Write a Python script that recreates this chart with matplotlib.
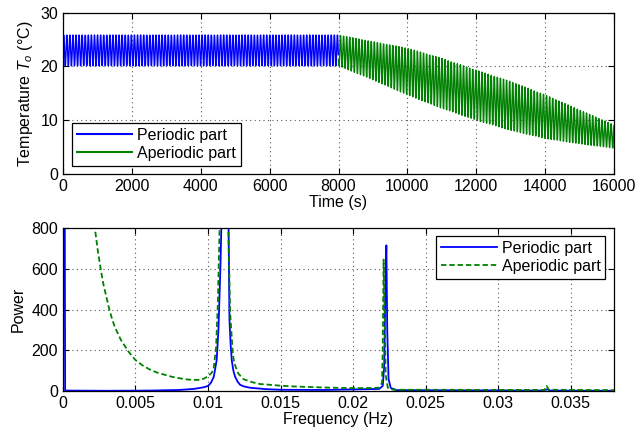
"""MATLAB-style figure: temperature signal split into periodic / aperiodic
parts (top) and their power spectra (bottom)."""

import numpy as np
import matplotlib
matplotlib.use("Agg")
import matplotlib.pyplot as plt

plt.rcParams["font.family"] = ["Liberation Sans", "DejaVu Sans"]
plt.rcParams["mathtext.fontset"] = "custom"
plt.rcParams["mathtext.it"] = "Liberation Sans:italic"
plt.rcParams["mathtext.rm"] = "Liberation Sans"
plt.rcParams["font.size"] = 11.5

BLUE = (0, 0, 1)
GREEN = (0, 0.5, 0)

# --- top panel: envelope ----------------------------------------------------
f0 = 0.0112                      # fundamental (Hz), from the spectrum peak
per_lo, per_hi = 20.1, 25.85     # periodic part band, 0..8000 s
aper_t = [8000, 9000, 10000, 11000, 12000, 13000, 14000, 15000, 16000]
aper_hi = [25.85, 24.6, 23.4, 21.5, 19.3, 17.2, 14.7, 11.9, 9.1]
aper_lo = [20.1, 17.5, 14.7, 12.2, 10.0, 8.1, 6.6, 5.6, 4.8]

# --- bottom panel: power spectra ---------------------------------------------
per_f = [0.0, 0.00015, 0.003, 0.006, 0.008, 0.009, 0.00946, 0.0098, 0.0100,
         0.0102, 0.0104, 0.0106, 0.01072, 0.01085, 0.01092, 0.01115, 0.01142,
         0.01148, 0.01156, 0.01164, 0.01175, 0.01187, 0.01205, 0.01222,
         0.0125, 0.0129, 0.014, 0.015, 0.018, 0.0218, 0.02205, 0.02215,
         0.02225, 0.02230, 0.02236, 0.02245, 0.0226, 0.0230, 0.0330, 0.03340,
         0.0336, 0.038]
per_p = [5000, 2, 1, 2, 5, 10, 15, 20, 25,
         40, 70, 152, 300, 590, 800, 3000, 800,
         350, 230, 150, 100, 70, 45, 30,
         22, 16, 9, 6, 5, 10, 25, 120,
         600, 715, 300, 60, 15, 4, 2, 8,
         2, 1]
aper_f = [0.0015, 0.0022, 0.0024, 0.0026, 0.0028, 0.0030, 0.0032, 0.0034,
          0.0036, 0.0038, 0.0040, 0.0045, 0.0050, 0.0055, 0.0060, 0.0065,
          0.0070, 0.0075, 0.0080, 0.0085, 0.0090, 0.0094, 0.0097, 0.0100,
          0.0102, 0.01038, 0.01056, 0.01068, 0.01080, 0.0110, 0.01140,
          0.01153, 0.01171, 0.0118, 0.01199, 0.0121, 0.01245, 0.0130, 0.0136,
          0.014, 0.015, 0.016, 0.018, 0.020, 0.021, 0.0218, 0.0220, 0.02205,
          0.02211, 0.02218, 0.02225, 0.0224, 0.0228, 0.0332, 0.03335, 0.0335,
          0.038]
aper_p = [1800, 800, 690, 600, 520, 460, 400, 350,
          310, 280, 250, 195, 152, 125, 105, 90,
          80, 70, 63, 57, 54, 55, 60, 72,
          85, 103, 217, 431, 800, 3000, 800,
          380, 186, 140, 103, 85, 58, 44, 34,
          32, 26, 22, 17, 14, 14, 16, 40, 200,
          645, 400, 80, 15, 6, 5, 25, 6,
          4]


def style_axes(ax):
    ax.grid(True, linestyle=(0, (1, 3)), color="0.35", linewidth=0.8)
    ax.tick_params(direction="in", top=True, right=True, length=4, width=0.8)
    for s in ax.spines.values():
        s.set_linewidth(0.9)


fig = plt.figure(figsize=(6.36, 4.37), dpi=100)
ax1 = fig.add_axes([0.099, 0.602, 0.8665, 0.369])
ax2 = fig.add_axes([0.099, 0.1053, 0.8665, 0.3728])

# top
t1 = np.arange(0, 8000, 5.0)
mid1 = (per_lo + per_hi) / 2
amp1 = (per_hi - per_lo) / 2
ax1.plot(t1, mid1 + amp1 * np.sin(2 * np.pi * f0 * t1), color=BLUE, lw=1.0,
         label="Periodic part")
t2 = np.arange(8000, 16000.1, 5.0)
hi2 = np.interp(t2, aper_t, aper_hi)
lo2 = np.interp(t2, aper_t, aper_lo)
ax1.plot(t2, (hi2 + lo2) / 2 + (hi2 - lo2) / 2 * np.sin(2 * np.pi * f0 * t2),
         color=GREEN, lw=1.0, label="Aperiodic part")
ax1.set_xlim(0, 16000)
ax1.set_ylim(0, 30)
ax1.set_xticks(np.arange(0, 16001, 2000))
ax1.set_yticks([0, 10, 20, 30])
ax1.set_xlabel("Time (s)", labelpad=1)
ax1.set_ylabel(r"Temperature $T_o$ (°C)", labelpad=4)
style_axes(ax1)
leg1 = ax1.legend(loc="lower left", bbox_to_anchor=(0.016, 0.05),
                  borderaxespad=0, fancybox=False, framealpha=1,
                  edgecolor="k", handlelength=3.5, handletextpad=0.3,
                  labelspacing=0.2, borderpad=0.3)
leg1.get_frame().set_linewidth(0.9)
for ln in leg1.get_lines():
    ln.set_linewidth(1.5)

# bottom
ax2.plot(per_f, per_p, color=BLUE, lw=1.3, label="Periodic part")
ax2.plot(aper_f, aper_p, color=GREEN, lw=1.3, ls="--", dashes=(3, 1.6),
         label="Aperiodic part")
ax2.set_xlim(0, 0.038)
ax2.set_ylim(0, 800)
ax2.set_xticks([0, 0.005, 0.01, 0.015, 0.02, 0.025, 0.03, 0.035])
ax2.set_xticklabels(["0", "0.005", "0.01", "0.015", "0.02", "0.025", "0.03", "0.035"])
ax2.set_yticks([0, 200, 400, 600, 800])
ax2.set_xlabel("Frequency (Hz)", labelpad=1)
ax2.set_ylabel("Power", labelpad=4)
style_axes(ax2)
leg2 = ax2.legend(loc="upper right", bbox_to_anchor=(0.984, 0.953),
                  borderaxespad=0, fancybox=False, framealpha=1,
                  edgecolor="k", handlelength=3.5, handletextpad=0.3,
                  labelspacing=0.2, borderpad=0.3)
leg2.get_frame().set_linewidth(0.9)

fig.savefig("out.png", dpi=100)
